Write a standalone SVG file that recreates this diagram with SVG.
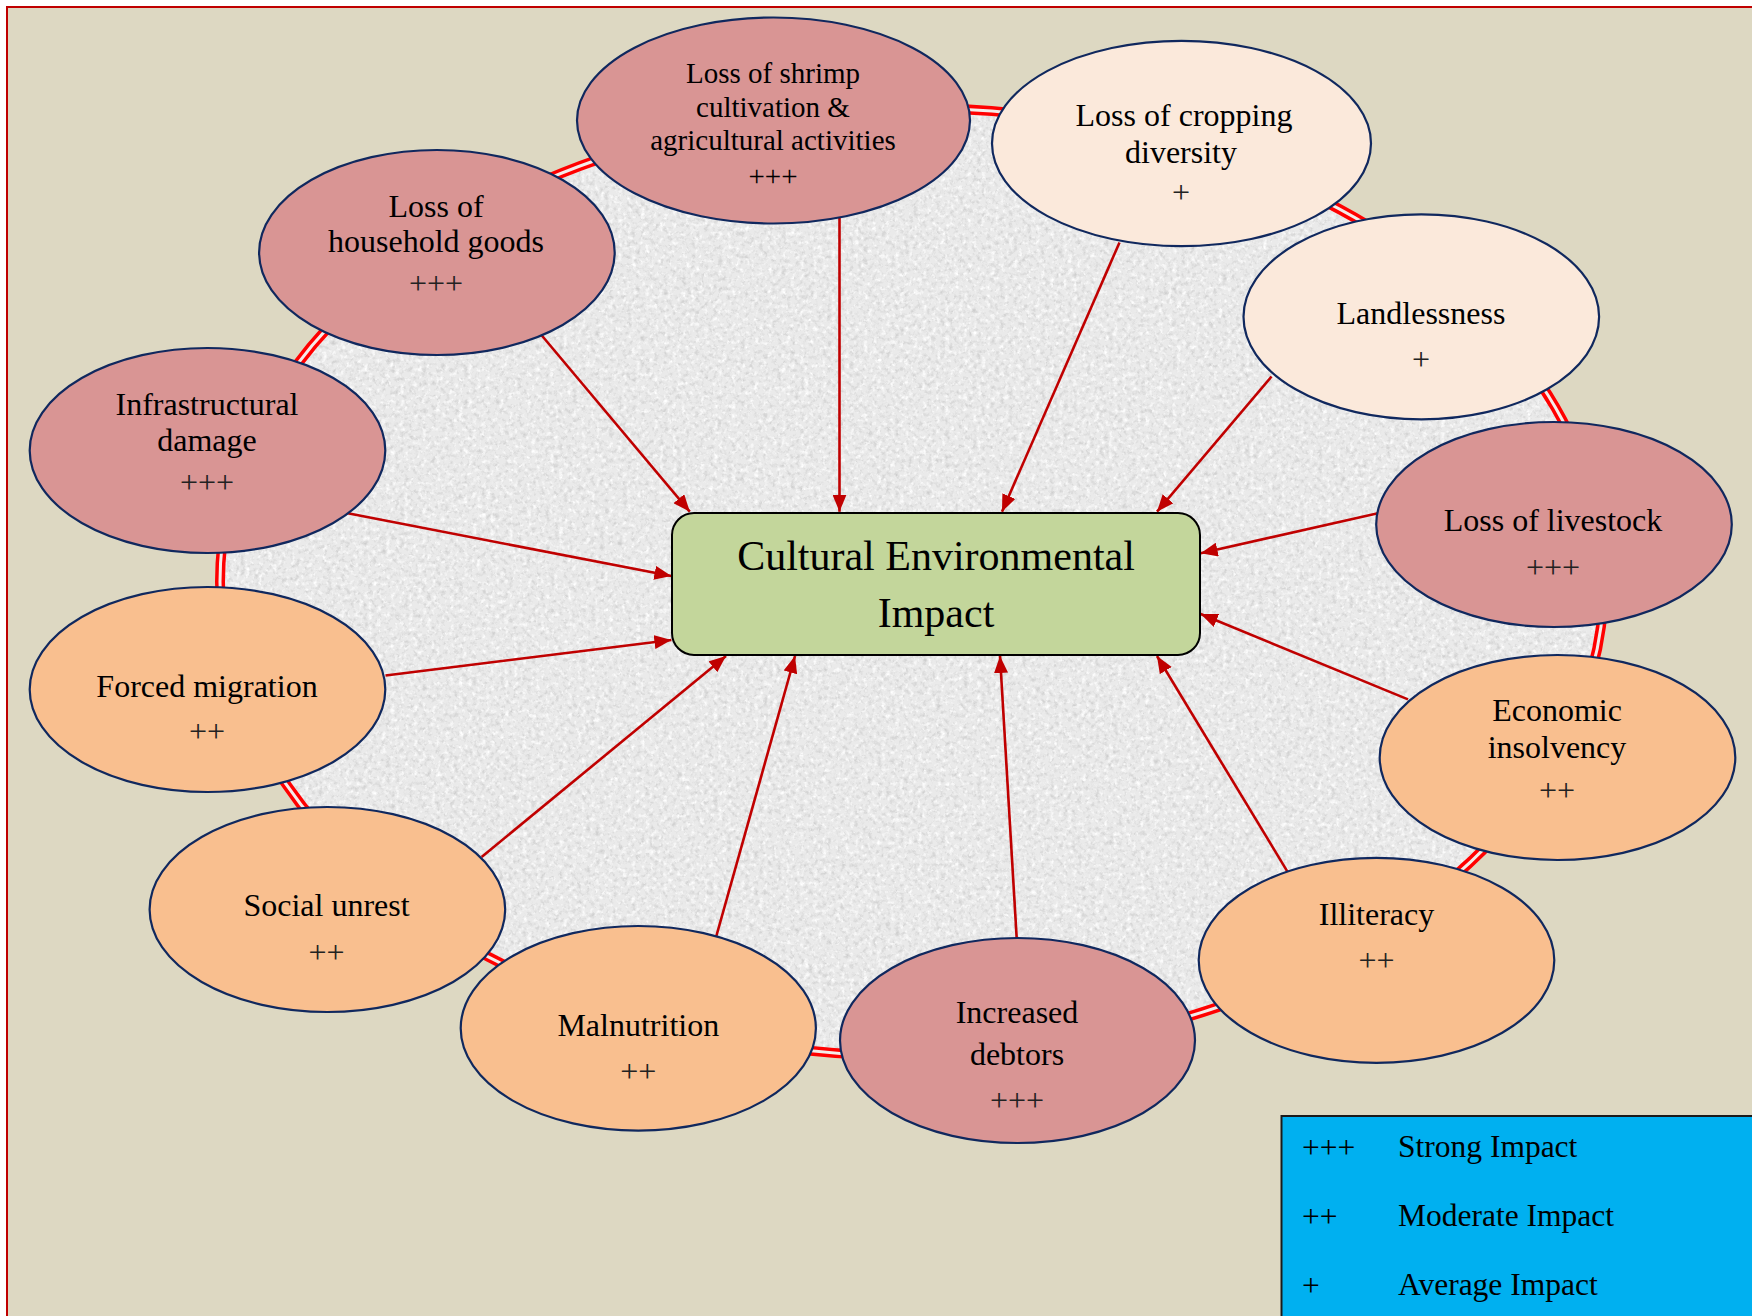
<svg xmlns="http://www.w3.org/2000/svg" width="1752" height="1316" viewBox="0 0 1752 1316">
<defs>
<style>
.node ellipse{stroke:#10285e;stroke-width:2.2}
.strong{fill:#D99594}
.mod{fill:#F9BF8F}
.avg{fill:#FBE9DB}
text{font-family:"Liberation Serif","Times New Roman",serif;fill:#000;text-anchor:middle}
.t{font-size:32px}
.ts{font-size:29px}
.p{font-size:32px;fill:#222}
.leg{font-size:31.5px;text-anchor:start}
.conn line{stroke:#C00000;stroke-width:2.6;marker-end:url(#ah)}
</style>
<marker id="ah" markerUnits="userSpaceOnUse" markerWidth="18" markerHeight="14" refX="17" refY="7" orient="auto">
<path d="M0,0 L17,7 L0,14 z" fill="#C00000"/>
</marker>
<filter id="grain" x="0%" y="0%" width="100%" height="100%">
<feTurbulence type="fractalNoise" baseFrequency="0.22" numOctaves="3" seed="7" result="noise"/>
<feColorMatrix in="noise" type="matrix" values="0 0 0 0 0.62 0 0 0 0 0.62 0 0 0 0 0.62 2.4 0 0 0 -1.1" result="dark"/>
<feColorMatrix in="noise" type="matrix" values="0 0 0 0 1 0 0 0 0 1 0 0 0 0 1 0 -2.8 0 0 1.35" result="light"/>
<feMerge result="m"><feMergeNode in="SourceGraphic"/><feMergeNode in="dark"/><feMergeNode in="light"/></feMerge>
<feComposite in="m" in2="SourceGraphic" operator="in"/>
</filter>
</defs>
<rect x="0" y="0" width="1752" height="1316" fill="#ffffff"/>
<rect x="7" y="7" width="1760" height="1320" fill="#DDD8C2" stroke="#C00000" stroke-width="2"/>
<g id="backdrop">
<ellipse cx="912" cy="582" rx="692" ry="474" fill="#EAEAEA" filter="url(#grain)"/>
<ellipse cx="912" cy="582" rx="692" ry="474" fill="none" stroke="#FF0000" stroke-width="10"/>
<ellipse cx="912" cy="582" rx="692" ry="474" fill="none" stroke="#F4ECEA" stroke-width="3"/>
</g>
<g id="connectors" class="conn">
<line x1="539.7" y1="333" x2="689.8" y2="511.7"/>
<line x1="839.5" y1="214.5" x2="839.5" y2="511.7"/>
<line x1="1119.5" y1="242.5" x2="1002" y2="511.7"/>
<line x1="1271.5" y1="376.5" x2="1157" y2="511.7"/>
<line x1="1379" y1="513" x2="1200.7" y2="553.3"/>
<line x1="1408" y1="699.4" x2="1200.7" y2="614"/>
<line x1="1289.4" y1="874.8" x2="1157" y2="656"/>
<line x1="1016.7" y1="938.3" x2="1000" y2="656"/>
<line x1="715.5" y1="939" x2="795" y2="656"/>
<line x1="481.6" y1="857" x2="726" y2="656"/>
<line x1="385.5" y1="675.5" x2="671.4" y2="640"/>
<line x1="346.5" y1="513" x2="671.4" y2="576"/>
</g>
<g id="center">
<rect x="672" y="513" width="528" height="142" rx="22" ry="22" fill="#C3D69B" stroke="#000" stroke-width="2"/>
<text x="936" y="570" font-size="42">Cultural Environmental</text>
<text x="936" y="627" font-size="42">Impact</text>
</g>
<g id="shrimp" class="node">
<ellipse class="strong" cx="773.5" cy="120.5" rx="196.5" ry="103"/>
<text class="ts" x="773" y="83">Loss of shrimp</text>
<text class="ts" x="773" y="117">cultivation &amp;</text>
<text class="ts" x="773" y="150">agricultural activities</text>
<text class="ts" x="773" y="186" fill="#222">+++</text>
</g>
<g id="cropping" class="node">
<ellipse class="avg" cx="1181.5" cy="143.5" rx="189.5" ry="102.7"/>
<text class="t" x="1184" y="126">Loss of cropping</text>
<text class="t" x="1181" y="162.5">diversity</text>
<text class="p" x="1181" y="203">+</text>
</g>
<g id="landlessness" class="node">
<ellipse class="avg" cx="1421.3" cy="316.8" rx="177.8" ry="102.5"/>
<text class="t" x="1421" y="323.5">Landlessness</text>
<text class="p" x="1421" y="370">+</text>
</g>
<g id="livestock" class="node">
<ellipse class="strong" cx="1554" cy="524.5" rx="177.8" ry="102.5"/>
<text class="t" x="1553" y="530.5">Loss of livestock</text>
<text class="p" x="1553" y="577.5">+++</text>
</g>
<g id="economic" class="node">
<ellipse class="mod" cx="1557.5" cy="757.5" rx="177.8" ry="102.5"/>
<text class="t" x="1557" y="720.5">Economic</text>
<text class="t" x="1557" y="757.5">insolvency</text>
<text class="p" x="1557" y="800.5">++</text>
</g>
<g id="illiteracy" class="node">
<ellipse class="mod" cx="1376.5" cy="960.3" rx="177.8" ry="102.5"/>
<text class="t" x="1376.5" y="925">Illiteracy</text>
<text class="p" x="1376.5" y="970.5">++</text>
</g>
<g id="debtors" class="node">
<ellipse class="strong" cx="1017.5" cy="1040.5" rx="177.5" ry="102.5"/>
<text class="t" x="1017" y="1022.7">Increased</text>
<text class="t" x="1017" y="1065">debtors</text>
<text class="p" x="1017" y="1111">+++</text>
</g>
<g id="malnutrition" class="node">
<ellipse class="mod" cx="638.3" cy="1028.3" rx="177.6" ry="102.3"/>
<text class="t" x="638.3" y="1035.5">Malnutrition</text>
<text class="p" x="638.3" y="1082">++</text>
</g>
<g id="social" class="node">
<ellipse class="mod" cx="327.4" cy="909.5" rx="177.8" ry="102.5"/>
<text class="t" x="326.5" y="916.2">Social unrest</text>
<text class="p" x="326.5" y="962.5">++</text>
</g>
<g id="forced" class="node">
<ellipse class="mod" cx="207.5" cy="689.5" rx="177.8" ry="102.5"/>
<text class="t" x="207" y="696.5">Forced migration</text>
<text class="p" x="207" y="742.3">++</text>
</g>
<g id="infrastructure" class="node">
<ellipse class="strong" cx="207.5" cy="450.5" rx="177.8" ry="102.5"/>
<text class="t" x="207" y="415">Infrastructural</text>
<text class="t" x="207" y="451">damage</text>
<text class="p" x="207" y="493">+++</text>
</g>
<g id="household" class="node">
<ellipse class="strong" cx="436.9" cy="252.5" rx="177.8" ry="102.5"/>
<text class="t" x="436" y="216.7">Loss of</text>
<text class="t" x="436" y="252.3">household goods</text>
<text class="p" x="436" y="294">+++</text>
</g>
<g id="legend">
<rect x="1281.5" y="1116" width="480" height="220" fill="#00B0F0" stroke="#1a1a1a" stroke-width="2"/>
<text class="leg" x="1302" y="1158" fill="#111">+++</text>
<text class="leg" x="1398" y="1157">Strong Impact</text>
<text class="leg" x="1302" y="1227" fill="#111">++</text>
<text class="leg" x="1398" y="1226">Moderate Impact</text>
<text class="leg" x="1302" y="1296" fill="#111">+</text>
<text class="leg" x="1398" y="1295">Average Impact</text>
</g>
</svg>
